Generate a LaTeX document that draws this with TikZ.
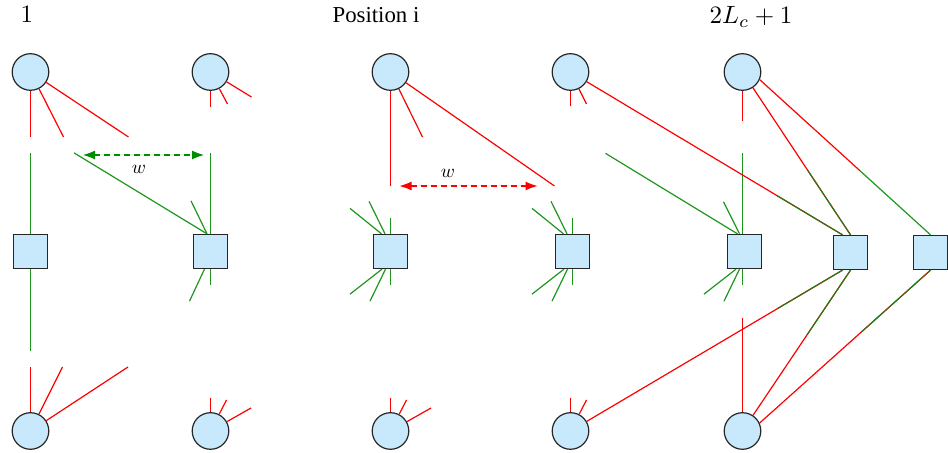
\documentclass[tikz,border=0pt]{standalone}
\usepackage{fontspec}
\newfontfamily\timesfont{Liberation Serif}
\usetikzlibrary{arrows.meta,calc}
\definecolor{nodefill}{RGB}{200,232,252}
\definecolor{edgered}{RGB}{255,0,0}
\definecolor{edgegreen}{RGB}{30,150,30}
\definecolor{arrowgreen}{RGB}{0,140,0}
\begin{document}
\begin{tikzpicture}[x=0.5pt,y=-0.5pt,
  vnode/.style={circle,draw=black!85,line width=0.6pt,fill=nodefill,minimum size=18.3pt,inner sep=0pt},
  cnode/.style={rectangle,draw=black!85,line width=0.65pt,fill=nodefill,minimum size=17pt,inner sep=0pt},
  redge/.style={draw=edgered,line width=0.6pt},
  gedge/.style={draw=edgegreen,line width=0.6pt},
  % green half drawn over a red edge, slightly off its axis
  oedge/.style={draw=edgegreen!85!black,line width=0.55pt,xshift=0.3pt},
  warrow/.style={line width=0.55pt,dash pattern=on 3pt off 2pt,
    {Latex[length=6pt,width=4.5pt]}-{Latex[length=6pt,width=4.5pt]}},
  title/.style={anchor=base,inner sep=0pt}]
\useasboundingbox (0,0) rectangle (948,453);

% column titles
\node[title,scale=1.25] (l1) at (27,23) {$1$};
\node[title,scale=1.14] (li) at (376,23) {\timesfont Position i};
\node[title,scale=1.25] (lc) at (751,24) {$2L_c+1$};

% variable nodes (top and bottom rows) and check nodes (middle row)
\node[vnode] (t1) at (30.5,72) {};
\node[vnode] (t2) at (210.5,72) {};
\node[vnode] (t3) at (390.5,72) {};
\node[vnode] (t4) at (570.5,72) {};
\node[vnode] (t5) at (742.5,72) {};
\node[vnode] (b1) at (30.5,431) {};
\node[vnode] (b2) at (210.5,431) {};
\node[vnode] (b3) at (390.5,431) {};
\node[vnode] (b4) at (570.5,431) {};
\node[vnode] (b5) at (742.5,431) {};
\node[cnode] (s1) at (30.5,251.5) {};
\node[cnode] (s2) at (210.5,251.5) {};
\node[cnode] (s3) at (390.5,251.5) {};
\node[cnode] (s4) at (572.5,251.5) {};
\node[cnode] (s5) at (744.5,251.5) {};
\node[cnode] (s6) at (850.5,252.5) {};
\node[cnode] (s7) at (930.5,252.5) {};

% attachment points on the check nodes
\coordinate (s6a) at ($(s6.north)+(-8,0)$);
\coordinate (s6b) at (s6.north);
\coordinate (s7a) at (s7.north);
\coordinate (s6c) at ($(s6.south)+(-8,0)$);
\coordinate (s6d) at (s6.south);
\coordinate (s7c) at (s7.south);
\coordinate (s5n) at ($(s5.north)+(-2,0)$);
\coordinate (s5s) at ($(s5.south)+(-2,0)$);

% red half-edges leaving the top variable nodes
\draw[redge] (t1) -- ++(0,65);
\draw[redge] (t1) -- ++(33,65);
\draw[redge] (t1) -- ++(98,65);
\draw[redge] (t2) -- ++(0,35);
\draw[redge] (t2) -- ++(17,32);
\draw[redge] (t2) -- ++(41,25);
\draw[redge] (t3) -- ++(0,114);
\draw[redge] (t3) -- ++(32,65);
\draw[redge] (t3) -- ++(164,114);
\draw[redge] (t4) -- ++(0,34);
\draw[redge] (t4) -- ++(16,32);
\draw[redge] (t5) -- ++(0,49);

% red half-edges leaving the bottom variable nodes
\draw[redge] (b1) -- ++(0,-64);
\draw[redge] (b1) -- ++(32,-64);
\draw[redge] (b1) -- ++(97.5,-64);
\draw[redge] (b2) -- ++(0,-33);
\draw[redge] (b2) -- ++(16,-31);
\draw[redge] (b2) -- ++(40.5,-23);
\draw[redge] (b3) -- ++(0,-33);
\draw[redge] (b3) -- ++(16,-31);
\draw[redge] (b3) -- ++(40.5,-23);
\draw[redge] (b4) -- ++(0,-33);
\draw[redge] (b4) -- ++(16,-31);
\draw[redge] (b5) -- ++(0,-113);

% green half-edges leaving the check nodes
\draw[gedge] (s1.north) -- ++(0,-81);
\draw[gedge] (s1.south) -- ++(0,82);
\draw[gedge] (s2.north) -- ++(0,-81);
\draw[gedge] ($(s2.north)+(-3.5,0)$) -- ++(-133,-81);
\draw[gedge] ($(s2.north)+(-3.5,0)$) -- ++(-16,-33);
\draw[gedge] (s2.south) -- ++(0,16);
\draw[gedge] ($(s2.south)+(-6,0)$) -- ++(-15,32);
\foreach \s in {s3,s4}{
  \draw[gedge] ($(\s.north)+(-9,0)$) -- ++(-31.5,-25.5);
  \draw[gedge] ($(\s.north)+(-5.5,0)$) -- ++(-16,-32.5);
  \draw[gedge] (\s.north) -- ++(0,-15.5);
  \draw[gedge] ($(\s.south)+(-8.5,0)$) -- ++(-32,25);
  \draw[gedge] ($(\s.south)+(-5,0)$) -- ++(-15.5,32);
  \draw[gedge] (\s.south) -- ++(0,15.5);
}
\draw[gedge] (s5n) -- ++(0,-80.5);
\draw[gedge] ($(s5.north)+(-7,0)$) -- ++(-132,-80.5);
\draw[gedge] ($(s5.north)+(-5,0)$) -- ++(-16,-32);
\draw[gedge] ($(s5.south)+(-8.5,0)$) -- ++(-32,25);
\draw[gedge] ($(s5.south)+(-5,0)$) -- ++(-15.5,32);
\draw[gedge] (s5s) -- ++(0,15.5);

% complete edges on the right, red from the variable side, green from the check side
\draw[redge] (t4) -- (s6a);
\draw[oedge] ($(t4)!0.76!(s6a)$) -- (s6a);
\draw[redge] (t5) -- (s6b);
\draw[oedge] ($(t5)!0.6!(s6b)$) -- (s6b);
\draw[redge] (t5.-24) -- ($(t5.-24)!0.587!(s7a)$);
\draw[gedge] ($(t5.-24)!0.587!(s7a)$) -- (s7a);
\draw[redge] (b4) -- (s6c);
\draw[oedge] (s6c) -- ($(s6c)!0.24!(b4)$);
\draw[redge] (b5) -- (s6d);
\draw[oedge] (s6d) -- ($(s6d)!0.4!(b5)$);
\draw[redge] (b5.25) -- (s7c);
\draw[oedge] (s7c) -- ($(s7c)!0.406!(b5.25)$);

% window width markers
\coordinate (wgl) at (83,155);
\coordinate (wgr) at (204,155);
\coordinate (wrl) at (399.5,186);
\coordinate (wrr) at (537.5,186);
\draw[warrow,draw=arrowgreen,fill=arrowgreen] (wgl) -- (wgr);
\draw[warrow,draw=red,fill=red] (wrl) -- (wrr);
\node[scale=0.95] (wg) at (139,169) {$w$};
\node[scale=0.95] (wr) at (448,173) {$w$};
\end{tikzpicture}
\end{document}
